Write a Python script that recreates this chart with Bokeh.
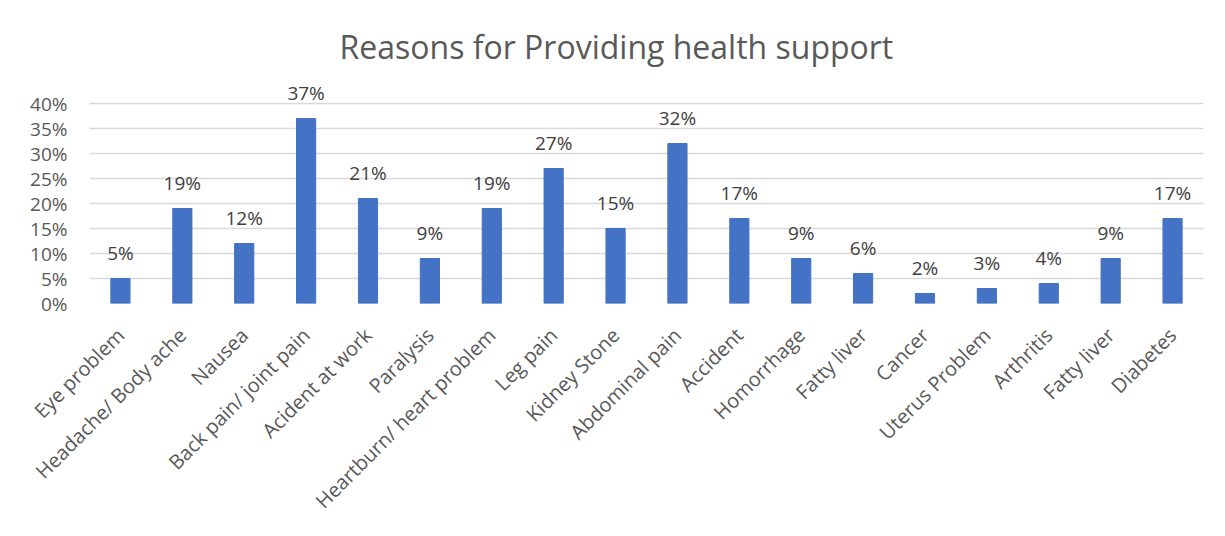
from bokeh.plotting import figure
from bokeh.models import ColumnDataSource, FixedTicker, LabelSet, NumeralTickFormatter
from bokeh.core.properties import value
from bokeh.embed import file_html
from bokeh.resources import INLINE
from math import pi

categories = ["Eye problem", "Headache/ Body ache", "Nausea", "Back pain/ joint pain",
              "Acident at work", "Paralysis", "Heartburn/ heart problem", "Leg pain",
              "Kidney Stone", "Abdominal pain", "Accident", "Homorrhage", "Fatty liver",
              "Cancer", "Uterus Problem", "Arthritis", "Fatty liver", "Diabetes"]
values = [5, 19, 12, 37, 21, 9, 19, 27, 15, 32, 17, 9, 6, 2, 3, 4, 9, 17]
y_ticks = [0, 5, 10, 15, 20, 25, 30, 35, 40]

FONT = "Open Sans"
GREY = "#595959"

n = len(categories)
xs = list(range(n))
fr = [v / 100 for v in values]
src = ColumnDataSource(dict(x=xs, top=fr, label=[f"{v}%" for v in values]))

p = figure(width=1217, height=528, output_backend="svg", toolbar_location=None,
           x_range=(-0.5, n - 0.5), y_range=(0, 0.44),
           min_border_left=89, min_border_right=14, min_border_top=83, min_border_bottom=225)

p.title.text = "Reasons for Providing health support"
p.title.align = "left"
p.title.offset = 250
p.title.standoff = 32
p.title.text_font = FONT
p.title.text_font_size = "32px"
p.title.text_font_style = "normal"
p.title.text_color = GREY

p.vbar(x="x", top="top", width=0.31, bottom=0, source=src, color="#4472C4")

labels = LabelSet(x="x", y="top", text="label", source=src, text_align="center",
                  text_baseline="bottom", y_offset=13, text_font=value(FONT),
                  text_font_size="19px", text_color="#404040")
p.add_layout(labels)

p.xaxis.ticker = FixedTicker(ticks=xs)
p.xaxis.major_label_overrides = {i: c for i, c in enumerate(categories)}
p.xaxis.major_label_orientation = pi / 4
p.yaxis.ticker = FixedTicker(ticks=[t / 100 for t in y_ticks])
p.yaxis.formatter = NumeralTickFormatter(format="0%")

for ax in (p.xaxis[0], p.yaxis[0]):
    ax.major_label_text_font = FONT
    ax.major_label_text_color = GREY
    ax.major_tick_line_color = None
    ax.minor_tick_line_color = None
    ax.axis_line_color = None
p.xaxis.major_label_text_font_size = "20px"
p.yaxis.major_label_text_font_size = "19px"
p.xaxis.major_label_standoff = 22
p.yaxis.major_label_standoff = 16

p.xgrid.grid_line_color = None
p.ygrid.grid_line_color = "#d9d9d9"
p.ygrid.grid_line_width = 1.5
p.outline_line_color = None

open("out.html", "w").write(file_html(p, INLINE))
